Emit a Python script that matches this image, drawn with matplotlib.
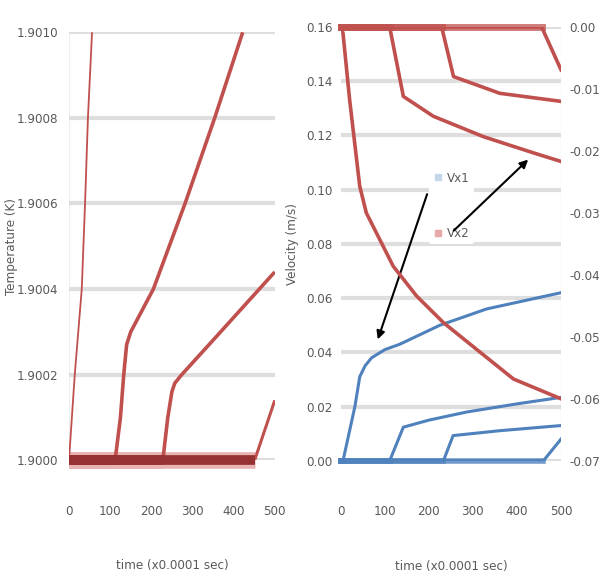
import numpy as np
import matplotlib
matplotlib.use("Agg")
import matplotlib.pyplot as plt
from matplotlib.lines import Line2D
from matplotlib.ticker import FormatStrFormatter

plt.rcParams['font.family'] = ['DejaVu Sans']
plt.rcParams['font.stretch'] = 'condensed'

# left panel: temperature (K) vs time (x0.0001 sec)
temp_t = [
    [0, 14, 31, 39, 46, 56],
    [0, 112, 125, 133, 140, 150, 205, 282, 354, 422],
    [0, 228, 240, 250, 257, 274, 359, 500],
    [0, 451, 500],
]
temp_v = [
    [1.9000, 1.90020, 1.90040, 1.90060, 1.90080, 1.90100],
    [1.9000, 1.9000, 1.90010, 1.90020, 1.90027, 1.90030, 1.90040, 1.90060, 1.90080, 1.90100],
    [1.9000, 1.9000, 1.90010, 1.90016, 1.90018, 1.90020, 1.90029, 1.90044],
    [1.9000, 1.9000, 1.90014],
]
temp_width = [1.3, 2.6, 2.6, 2.2]

# right panel: velocity, blue on left axis, red on right axis
vx1_t = [
    [0, 5, 32, 43, 55, 70, 100, 134, 225, 331, 500],
    [0, 111, 142, 200, 286, 400, 500],
    [0, 233, 255, 361, 500],
    [0, 460, 500],
]
vx1_v = [
    [0, 0, 0.020, 0.031, 0.035, 0.038, 0.041, 0.043, 0.050, 0.056, 0.062],
    [0, 0, 0.0124, 0.0150, 0.0180, 0.0210, 0.0234],
    [0, 0, 0.0093, 0.0111, 0.0130],
    [0, 0, 0.0080],
]
vx2_t = [
    [0, 5, 20, 43, 58, 119, 172, 233, 308, 392, 500],
    [0, 111, 142, 210, 324, 437, 500],
    [0, 229, 256, 361, 500],
    [0, 456, 500],
]
vx2_v = [
    [0, -0.001, -0.0117, -0.0257, -0.0300, -0.0386, -0.0434, -0.0477, -0.0520, -0.0568, -0.0600],
    [0, 0, -0.0112, -0.0144, -0.0177, -0.0203, -0.0217],
    [0, 0, -0.0080, -0.0107, -0.0120],
    [0, 0, -0.0069],
]

legend_labels = ['Vx1', 'Vx2']
red = '#c0504d'
blue = '#4f81bd'
grid_c = '#dedede'
txt_c = '#595959'
fs = 9.5

fig = plt.figure(figsize=(6.0, 5.87), dpi=100)
ax = fig.add_axes([0.115, 0.216, 0.343, 0.729])
axr = fig.add_axes([0.568, 0.215, 0.367, 0.739])
axr2 = axr.twinx()

def excel_style(a):
    for s in a.spines.values():
        s.set_visible(False)
    a.tick_params(length=0, colors=txt_c, labelsize=fs)

# ---- left: temperature
base = temp_v[0][0]
for t, v, w in zip(temp_t, temp_v, temp_width):
    t = np.array(t); v = np.array(v)
    ax.plot(t, v, color=red, lw=w, solid_capstyle='butt', zorder=3)
    flat = v <= base
    ax.plot(t[flat], v[flat], color='#e8b4b3', lw=12, solid_capstyle='butt', zorder=2, clip_on=False)
    ax.plot(t[flat], v[flat], color='#963232', lw=7, solid_capstyle='butt', zorder=4, clip_on=False)
ax.set_xlim(0, 500)
ax.set_ylim(1.9000, 1.9010)
ax.set_yticks(np.arange(1.9000, 1.90101, 0.0002))
ax.yaxis.set_major_formatter(FormatStrFormatter('%.4f'))
ax.set_xticks(range(0, 501, 100))
ax.yaxis.grid(True, color=grid_c, lw=3)
ax.set_axisbelow(True)
excel_style(ax)
ax.tick_params(axis='x', pad=32)
ax.tick_params(axis='y', pad=8)
ax.set_xlabel('time (x0.0001 sec)', color=txt_c, fontsize=fs, labelpad=30)
ax.set_ylabel('Temperature (K)', color=txt_c, fontsize=fs)
ax.yaxis.set_label_coords(-0.25, 0.5)
ax.axvline(0, color='#eeeeee', lw=1, zorder=0)

# ---- right: velocity
for t, v in zip(vx1_t, vx1_v):
    t = np.array(t); v = np.array(v)
    axr.plot(t, v, color=blue, lw=2.2, zorder=3)
    flat = v <= 0
    axr.plot(t[flat], v[flat], color=blue, lw=4, alpha=0.8, zorder=3, clip_on=False)
for t, v in zip(vx2_t, vx2_v):
    t = np.array(t); v = np.array(v)
    axr2.plot(t, v, color=red, lw=2.6, zorder=3)
    flat = v >= 0
    axr2.plot(t[flat], v[flat], color=red, lw=5, alpha=0.75, zorder=3, clip_on=False)

axr.set_xlim(0, 500)
axr.set_ylim(0, 0.16)
axr.set_yticks(np.arange(0, 0.161, 0.02))
axr.yaxis.set_major_formatter(FormatStrFormatter('%.2f'))
axr.set_xticks(range(0, 501, 100))
axr.yaxis.grid(True, color=grid_c, lw=3)
axr.set_axisbelow(True)
excel_style(axr)
axr.tick_params(axis='x', pad=32)
axr.tick_params(axis='y', pad=6)
axr.set_xlabel('time (x0.0001 sec)', color=txt_c, fontsize=fs, labelpad=30)
axr.set_ylabel('Velocity (m/s)', color=txt_c, fontsize=fs)
axr.yaxis.set_label_coords(-0.19, 0.5)
axr.axvline(500, color='#eeeeee', lw=1, zorder=0)

axr2.set_ylim(-0.07, 0.0)
axr2.set_yticks(np.arange(-0.07, 0.001, 0.01))
axr2.yaxis.set_major_formatter(FormatStrFormatter('%.2f'))
excel_style(axr2)
axr2.tick_params(axis='y', pad=6)

handles = [Line2D([], [], ls='none', marker='s', ms=4, color='#c5d5ea'),
           Line2D([], [], ls='none', marker='s', ms=4, color='#e6a9a8')]
leg = axr.legend(handles, legend_labels, loc='upper left', bbox_to_anchor=(0.37, 0.69),
                 frameon=True, fontsize=fs, labelspacing=3.2, handletextpad=0.3,
                 handlelength=0.8, borderpad=0.3)
leg.get_frame().set_edgecolor('none')
leg.get_frame().set_facecolor('white')
leg.get_frame().set_alpha(1)
for tx in leg.get_texts():
    tx.set_color(txt_c)

arrow_kw = dict(arrowstyle='-|>', color='black', lw=1.5, mutation_scale=12)
axr.annotate('', xy=(82, 0.0438), xytext=(198, 0.0993), arrowprops=arrow_kw, zorder=6)
axr.annotate('', xy=(430, 0.1118), xytext=(252, 0.0842), arrowprops=arrow_kw, zorder=6)

fig.savefig('out.png', dpi=100)
